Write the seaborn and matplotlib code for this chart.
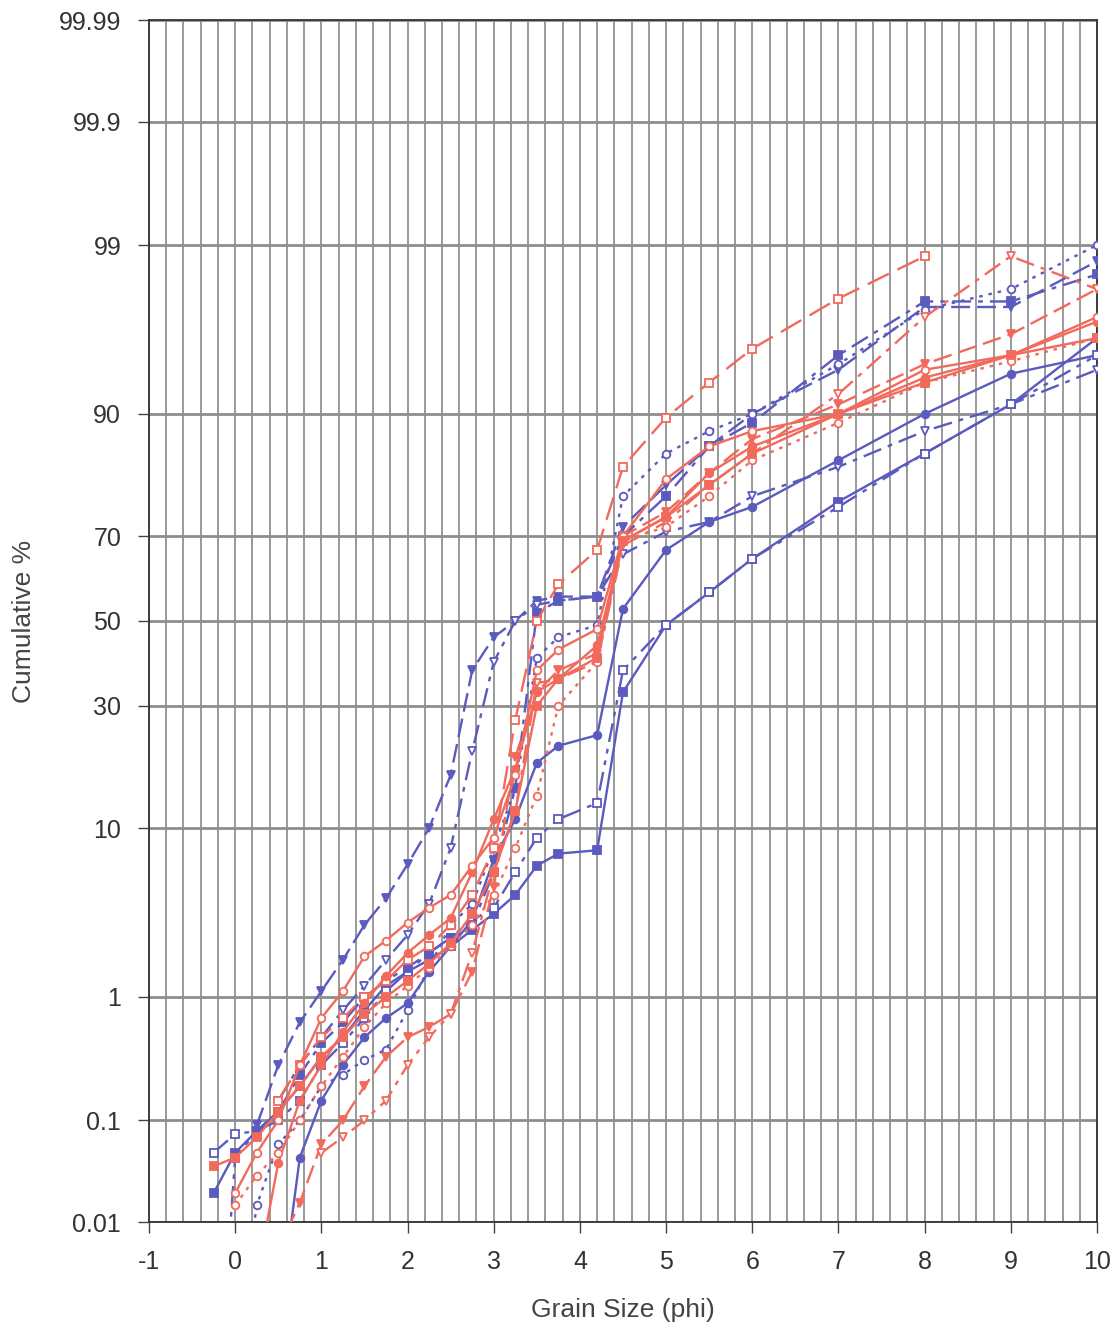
import numpy as np
import pandas as pd
import matplotlib
matplotlib.use("Agg")
import matplotlib.pyplot as plt
import seaborn as sns
from statistics import NormalDist
from matplotlib.ticker import FixedLocator, MultipleLocator, NullFormatter

# ---------------- data (cumulative % vs grain size phi) ----------------
B1_x = [0.25, 0.5, 0.75, 1, 1.25, 1.5, 1.75, 2, 2.25, 2.5, 2.75, 3, 3.25, 3.5, 3.75, 4.2, 4.5, 5, 5.5, 6, 7, 8, 9, 10]
B1_y = [0.09, 0.3, 0.65, 1.1, 1.8, 3.0, 4.3, 6.6, 10, 17, 38, 46, 50, 55, 56, 56, 72, 80, 86, 90, 94, 97.4, 97.4, 98.7]

B2_x = [0.5, 0.75, 1, 1.25, 1.5, 1.75, 2, 2.25, 2.5, 2.75, 3, 3.25, 3.5, 3.75, 4.2, 4.5, 5, 5.5, 6, 7, 8, 9, 10]
B2_y = [0.15, 0.3, 0.5, 0.8, 1.2, 1.8, 2.6, 4.0, 8.0, 21, 40, 50, 54, 55, 56, 66, 71, 73, 78, 83, 88, 91, 94]

B3_x = [0.2, 0.25, 0.5, 0.75, 1, 1.25, 1.5, 1.75, 2, 2.25, 2.5, 2.75, 3, 3.25, 3.5, 3.75, 4.2, 4.5, 5, 5.5, 6, 7, 8, 9, 10]
B3_y = [0.007, 0.015, 0.06, 0.1, 0.2, 0.25, 0.33, 0.4, 0.8, 1.6, 3.0, 4.0, 8.0, 15, 41, 46, 49, 78, 85, 88, 90, 94.4, 97.3, 98, 99]

B4_x = [0.62, 0.75, 1, 1.25, 1.5, 1.75, 2, 2.25, 2.5, 2.75, 3, 3.25, 3.5, 3.75, 4.2, 4.5, 5, 5.5, 6, 7, 8, 9, 10]
B4_y = [0.006, 0.045, 0.15, 0.3, 0.5, 0.7, 0.9, 1.5, 2.2, 3.2, 7.0, 11, 19, 22, 24, 53, 67, 73, 76, 84, 90, 93.7, 95]

B5_x = [-0.25, 0, 0.25, 0.5, 0.75, 1, 1.25, 1.5, 1.75, 2, 2.25, 2.5, 2.75, 3, 3.25, 3.5, 3.75, 4.2, 4.5, 5, 5.5, 6, 7, 8, 9, 10]
B5_y = [0.02, 0.05, 0.08, 0.12, 0.2, 0.35, 0.5, 0.8, 1.2, 1.5, 1.8, 2.2, 2.8, 3.5, 4.5, 6.5, 7.5, 7.8, 33, 49, 57, 65, 77, 85, 91, 96]

B6_x = [-0.25, 0, 0.25, 0.5, 0.75, 1, 1.25, 1.5, 1.75, 2, 2.25, 2.5, 2.75, 3, 3.25, 3.5, 3.75, 4.2, 4.5, 5, 5.5, 6, 7, 8, 9, 10]
B6_y = [0.05, 0.075, 0.08, 0.1, 0.15, 0.3, 0.45, 0.7, 1.1, 1.5, 2.0, 2.5, 3.2, 3.8, 6.0, 9.0, 11, 13, 38, 49, 57, 65, 76, 85, 91, 95]

B7_x = [-0.07, 0, 0.25, 0.5, 0.75, 1, 1.25, 1.5, 1.75, 2, 2.25, 2.5, 2.75, 3, 3.25, 3.5, 3.75, 4.2, 4.5, 5, 5.5, 6, 7, 8, 9, 10]
B7_y = [0.006, 0.045, 0.08, 0.12, 0.25, 0.45, 0.65, 1.0, 1.3, 1.6, 2.0, 2.5, 3.0, 6.0, 15, 52, 55, 56, 70, 78, 86, 89, 95, 97.6, 97.6, 98.4]

R1_x = [0.5, 0.75, 1, 1.25, 1.5, 1.75, 2, 2.25, 2.5, 2.75, 3, 3.25, 3.5, 3.75, 4.2, 4.5, 5, 5.5, 6, 7, 8]
R1_y = [0.15, 0.3, 0.5, 0.7, 1.0, 1.3, 1.8, 2.2, 3.0, 4.5, 8.0, 27, 50, 59, 67, 83, 89.6, 93, 95.4, 97.7, 98.8]

R2_x = [0.6, 0.75, 1, 1.25, 1.5, 1.75, 2, 2.25, 2.5, 2.75, 3, 3.25, 3.5, 3.75, 4.2, 4.5, 5, 5.5, 6, 7, 8, 9, 10]
R2_y = [0.008, 0.016, 0.06, 0.1, 0.2, 0.35, 0.5, 0.6, 0.75, 1.5, 5.0, 20, 33, 38, 42, 70, 75, 82, 87, 91, 94.4, 96.2, 98]

R3_x = [1, 1.25, 1.5, 1.75, 2, 2.25, 2.5, 2.75, 3, 3.25, 3.5, 3.75, 4.2, 4.5, 5, 5.5, 6, 7, 8, 9, 10]
R3_y = [0.05, 0.07, 0.1, 0.15, 0.3, 0.5, 0.75, 2.0, 6.0, 12, 35, 36, 40, 68, 73, 80, 85, 92, 97, 98.8, 98]

R4_x = [0.35, 0.5, 0.75, 1, 1.25, 1.5, 1.75, 2, 2.25, 2.5, 2.75, 3, 3.25, 3.5, 3.75, 4.2, 4.5, 5, 5.5, 6, 7, 8, 9, 10]
R4_y = [0.008, 0.04, 0.15, 0.3, 0.55, 0.9, 1.4, 2.0, 2.6, 3.3, 6.0, 11, 18, 33, 36, 44, 69, 74, 82, 86, 90, 93.4, 95, 96.8]

R5_x = [0, 0.25, 0.5, 0.75, 1, 1.25, 1.5, 1.75, 2, 2.25, 2.5, 2.75, 3, 3.25, 3.5, 3.75, 4.2, 4.5, 5, 5.5, 6, 7, 8, 9, 10]
R5_y = [0.02, 0.05, 0.1, 0.3, 0.7, 1.1, 1.9, 2.4, 3.1, 3.8, 4.5, 6.5, 9.0, 17, 38, 43, 48, 70, 81, 86, 88, 90, 94, 95, 97]

R6_x = [0, 0.25, 0.5, 0.75, 1, 1.25, 1.5, 1.75, 2, 2.25, 2.5, 2.75, 3, 3.25, 3.5, 3.75, 4.2, 4.5, 5, 5.5, 6, 7, 8, 9, 10]
R6_y = [0.015, 0.03, 0.05, 0.1, 0.2, 0.35, 0.6, 0.9, 1.2, 1.6, 2.2, 3.0, 4.5, 8.0, 14, 30, 40, 69, 72, 78, 84, 89, 93, 94.6, 96]

R7_x = [-0.25, 0, 0.25, 0.5, 0.75, 1, 1.25, 1.5, 1.75, 2, 2.25, 2.5, 2.75, 3, 3.25, 3.5, 3.75, 4.2, 4.5, 5, 5.5, 6, 7, 8, 9, 10]
R7_y = [0.037, 0.045, 0.07, 0.12, 0.2, 0.35, 0.5, 0.75, 1.0, 1.3, 1.7, 2.3, 3.5, 6.0, 12, 30, 36, 41, 69, 74, 80, 85, 90, 93, 95, 96]

y_tick_values = [0.01, 0.1, 1, 10, 30, 50, 70, 90, 99, 99.9, 99.99]
y_tick_labels = ["0.01", "0.1", "1", "10", "30", "50", "70", "90", "99", "99.9", "99.99"]
x_tick_values = list(range(-1, 11))

BLUE = "#5A5ABF"
RED = "#F26A5C"

series = [
    (B1_x, B1_y, BLUE, "v", True, (0, (8, 3))),
    (B2_x, B2_y, BLUE, "v", False, (0, (8, 3, 2, 3))),
    (B3_x, B3_y, BLUE, "o", False, (0, (1.5, 2.5))),
    (B4_x, B4_y, BLUE, "o", True, "-"),
    (B5_x, B5_y, BLUE, "s", True, "-"),
    (B6_x, B6_y, BLUE, "s", False, (0, (8, 3, 2, 3, 2, 3))),
    (B7_x, B7_y, BLUE, "s", True, (0, (8, 3, 2, 3))),
    (R1_x, R1_y, RED, "s", False, (0, (10, 4))),
    (R2_x, R2_y, RED, "v", True, (0, (8, 3))),
    (R3_x, R3_y, RED, "v", False, (0, (8, 3, 2, 3))),
    (R4_x, R4_y, RED, "o", True, "-"),
    (R5_x, R5_y, RED, "o", False, "-"),
    (R6_x, R6_y, RED, "o", False, (0, (1.5, 2.5))),
    (R7_x, R7_y, RED, "s", True, "-"),
]

# ---------------- probability (probit) scale ----------------
_nd = NormalDist()
_ppf = np.vectorize(lambda p: _nd.inv_cdf(p), otypes=[float])
_cdf = np.vectorize(lambda z: _nd.cdf(z), otypes=[float])


def forward(v):
    v = np.asarray(v, dtype=float)
    p = np.clip(np.nan_to_num(v / 100.0, nan=0.5), 1e-9, 1 - 1e-9)
    return _ppf(p)


def inverse(z):
    z = np.asarray(z, dtype=float)
    return _cdf(np.nan_to_num(z)) * 100.0


sns.set_style("white")
plt.rcParams["font.family"] = ["Liberation Sans", "DejaVu Sans"]

fig = plt.figure(figsize=(11.2, 13.29), dpi=100)
ax = fig.add_axes([149 / 1120, 1 - 1222 / 1329, (1097 - 149) / 1120, (1222 - 20) / 1329])
ax.set_yscale("function", functions=(forward, inverse))

for xs, ys, col, mk, filled, ls in series:
    sns.lineplot(x=xs, y=ys, ax=ax, color=col, marker=mk, linestyle=ls,
                 linewidth=1.7, markersize=5.5, sort=False, estimator=None,
                 markerfacecolor=col if filled else "white",
                 markeredgecolor=col, markeredgewidth=1.3,
                 legend=False, zorder=3)

ax.set_xlim(-1, 10)
ax.set_ylim(0.01, 99.99)

ax.yaxis.set_major_locator(FixedLocator(y_tick_values))
ax.set_yticklabels(y_tick_labels)
ax.yaxis.set_minor_locator(FixedLocator([]))
ax.xaxis.set_major_locator(FixedLocator(x_tick_values))
ax.set_xticklabels([str(v) for v in x_tick_values])
ax.xaxis.set_minor_locator(MultipleLocator(0.2))
ax.xaxis.set_minor_formatter(NullFormatter())

ax.grid(True, axis="x", which="both", color="#9a9a9a", linewidth=1.4, zorder=0)
ax.grid(True, axis="y", which="major", color="#8e8e8e", linewidth=2.0, zorder=0)
ax.set_axisbelow(True)

ax.tick_params(axis="y", which="major", direction="out", length=8, width=1, color="#444444",
               labelsize=18, labelcolor="#333333", pad=12)
ax.tick_params(axis="x", which="major", direction="out", length=8, width=1, color="#444444",
               labelsize=18, labelcolor="#333333", pad=12)
ax.tick_params(axis="x", which="minor", direction="out", length=4, width=1, color="#9a9a9a")
ax.tick_params(left=True, bottom=True)

for s in ax.spines.values():
    s.set_visible(True)
    s.set_color("#333333")
    s.set_linewidth(1.3)

ax.set_xlabel("Grain Size (phi)", fontsize=19, color="#444444")
ax.set_ylabel("Cumulative %", fontsize=19, color="#444444")
ax.xaxis.set_label_coords(0.5, (1222 - 1310) / 1202, transform=ax.transAxes)
ax.yaxis.set_label_coords((24 - 149) / 948, 0.5, transform=ax.transAxes)
ax.xaxis.label.set_va("center")
ax.yaxis.label.set_va("center")

fig.savefig("out.png", dpi=100)
